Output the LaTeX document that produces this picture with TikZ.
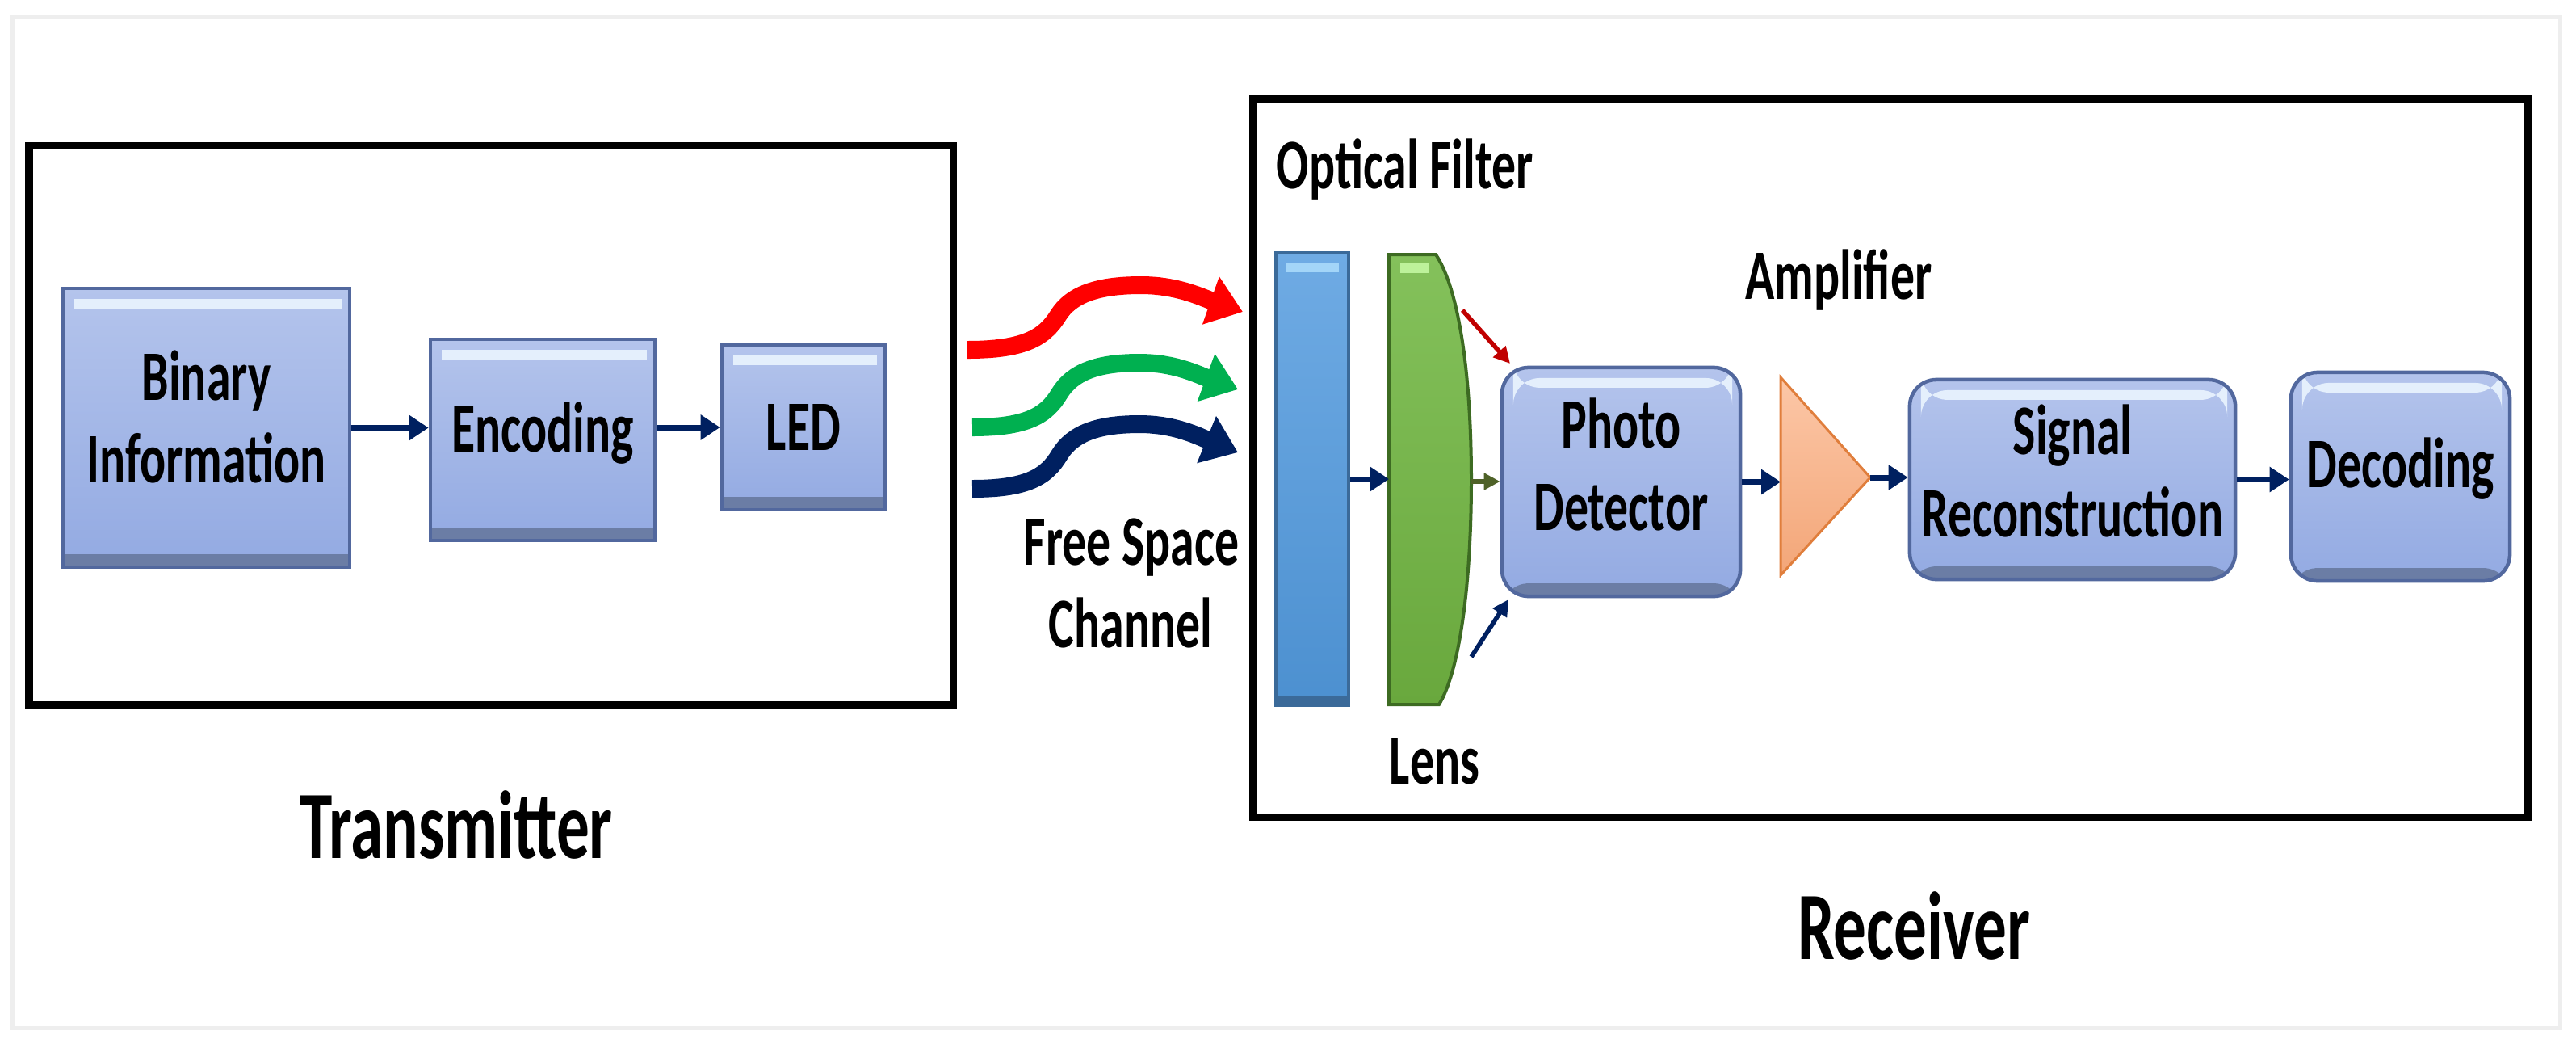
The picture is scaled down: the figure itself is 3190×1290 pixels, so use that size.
\documentclass[tikz,border=0pt]{standalone}
\usepackage{fontspec}
\setmainfont{Carlito}[FakeStretch=0.68]
\usetikzlibrary{arrows.meta,calc}
\definecolor{boxtop}{HTML}{B4C4EC}
\definecolor{boxbot}{HTML}{93AAE2}
\definecolor{boxedge}{HTML}{52689E}
\definecolor{boxhi}{HTML}{E4EFFC}
\definecolor{boxlo}{HTML}{6B7DA5}
\definecolor{navyc}{HTML}{002060}
\definecolor{redc}{HTML}{FF0000}
\definecolor{greenc}{HTML}{00B050}
\definecolor{darkred}{HTML}{C00000}
\definecolor{olivec}{HTML}{4F6228}
\definecolor{filttop}{HTML}{6FABE4}
\definecolor{filtbot}{HTML}{4C90D0}
\definecolor{filtedge}{HTML}{3B6A99}
\definecolor{filthi}{HTML}{A3D5F8}
\definecolor{lenstop}{HTML}{84C15B}
\definecolor{lensbot}{HTML}{69A83D}
\definecolor{lensedge}{HTML}{3D6B22}
\definecolor{lenshi}{HTML}{BDF29A}
\definecolor{amptop}{HTML}{FCC7A7}
\definecolor{ampbot}{HTML}{F3A678}
\definecolor{ampedge}{HTML}{E07E3C}
\definecolor{framec}{HTML}{EEEEEE}
\begin{document}
\begin{tikzpicture}[x=0.01cm,y=-0.01cm,
  lbl/.style={font=\fontsize{25}{29}\selectfont\bfseries, inner sep=0pt},
  biglbl/.style={font=\fontsize{34}{40}\selectfont\bfseries, inner sep=0pt},
  blkbox/.style={draw=boxedge, line width=0.045cm, top color=boxtop, bottom color=boxbot,
    inner sep=0pt, align=center, font=\fontsize{25}{29}\selectfont\bfseries,
    path picture={
      \fill[boxhi] ($(path picture bounding box.north west)+(14,13)$) rectangle ($(path picture bounding box.north east)+(-10,25)$);
      \fill[boxlo] ($(path picture bounding box.south west)+(0,-16)$) rectangle (path picture bounding box.south east);
    }},
  rbox/.style={blkbox, rounded corners=0.33cm},
  conn/.style={draw=navyc, line width=0.07cm, -{Triangle[length=0.24cm,width=0.3cm]}},
  thinarrow/.style={line width=0.055cm, -{Triangle[length=0.2cm,width=0.2cm]}},
  wave/.style={line width=0.22cm, -{Triangle[length=0.42cm,width=0.6cm]}},
]
\useasboundingbox (0,0) rectangle (3190,1290);
\fill[white] (0,0) rectangle (3190,1290);
\draw[framec, line width=0.05cm] (16,20) rectangle (3170,1272);

% group frames
\draw[black, line width=0.09cm] (36,180) rectangle (1180,872);
\draw[black, line width=0.09cm] (1551,122) rectangle (3130,1011);

% transmitter chain
\node[blkbox, minimum width=3.55cm, minimum height=3.45cm, text depth=0.28cm] (bin) at (255.5,529.5) {Binary\\Information};
\node[blkbox, minimum width=2.78cm, minimum height=2.49cm, text depth=0.32cm] (enc) at (672,544.5) {Encoding};
\node[blkbox, minimum width=2.02cm, minimum height=2.04cm] (led) at (995,529) {LED};
\draw[conn] (bin.east) -- (bin.east -| enc.west);
\draw[conn] (enc.east |- led.west) -- (led.west);

% free space waves
\coordinate (rs) at (1198,433); \coordinate (re) at (1539,386);
\coordinate (gs) at (1204,529); \coordinate (ge) at (1533,482);
\coordinate (bs) at (1204,605); \coordinate (be) at (1533,560);
\draw[wave, redc] (rs) .. controls (1268,433) and (1293,418) .. (1310,391) .. controls (1326,365) and (1358,353) .. (1413,353) .. controls (1458,353) and (1488,368) .. (re);
\draw[wave, greenc] (gs) .. controls (1272,529) and (1296,514) .. (1312,487) .. controls (1328,461) and (1358,449) .. (1411,449) .. controls (1455,449) and (1484,464) .. (ge);
\draw[wave, navyc] (bs) .. controls (1272,605) and (1296,590) .. (1312,563) .. controls (1328,537) and (1358,525) .. (1411,525) .. controls (1455,525) and (1484,540) .. (be);
\node[lbl, anchor=base] (fs1) at (1401,699) {Free Space};
\node[lbl, anchor=base] (fs2) at (1400,801) {Channel};

% optical filter
\node[draw=filtedge, line width=0.045cm, top color=filttop, bottom color=filtbot,
  minimum width=0.9cm, minimum height=5.6cm, inner sep=0pt,
  path picture={
    \fill[filthi] ($(path picture bounding box.north west)+(12,12)$) rectangle ($(path picture bounding box.north east)+(-12,24)$);
    \fill[filtedge] ($(path picture bounding box.south west)+(0,-12)$) rectangle (path picture bounding box.south east);
  }] (filt) at (1625,593) {};
\node[lbl, anchor=base west] (oftxt) at (1580,233) {Optical Filter};

% lens
\draw[draw=lensedge, line width=0.04cm, top color=lenstop, bottom color=lensbot]
  (1720,315) -- (1778,315) .. controls (1808,360) and (1822,470) .. (1822,594)
  .. controls (1822,720) and (1808,830) .. (1782,872) -- (1720,872) -- cycle;
\fill[lenshi] (1734,325) rectangle (1770,338);
\coordinate (lensL) at (1720,594);
\coordinate (lensR) at (1822,596);
\node[lbl, anchor=base west] (lenstxt) at (1720,970) {Lens};
\draw[conn] (filt.east) -- (filt.east -| lensL);

% receiver chain
\node[rbox, minimum width=2.95cm, minimum height=2.83cm, text depth=0.44cm] (pd) at (2007.5,596.5) {Photo\\Detector};
\node[rbox, minimum width=4.03cm, minimum height=2.47cm, text depth=0.22cm] (sig) at (2566.5,593.5) {Signal\\Reconstruction};
\node[rbox, minimum width=2.71cm, minimum height=2.58cm, text depth=0.34cm] (dec) at (2972.5,590) {Decoding};

\coordinate (ra0) at (1811,384); \coordinate (ra1) at (1870,450);
\coordinate (na0) at (1822,813); \coordinate (na1) at (1868,742);
\draw[thinarrow, darkred] (ra0) -- (ra1);
\draw[thinarrow, navyc] (na0) -- (na1);
\draw[thinarrow, olivec] (lensR) -- (lensR -| pd.west);

% amplifier
\coordinate (ampL) at (2205,591);
\coordinate (ampT) at (2316,591);
\draw[draw=ampedge, line width=0.03cm, top color=amptop, bottom color=ampbot]
  (2205,467) -- (ampT) -- (2205,712) -- cycle;
\node[lbl, anchor=base] (amptxt) at (2277,370) {Amplifier};

\draw[conn] (pd.east) -- (pd.east -| ampL);
\draw[conn] (ampT) -- (ampT -| sig.west);
\draw[conn] (sig.east) -- (sig.east -| dec.west);

% group titles
\node[biglbl, anchor=base] (tx) at (565,1062) {Transmitter};
\node[biglbl, anchor=base] (rx) at (2370,1187) {Receiver};
\end{tikzpicture}
\end{document}
